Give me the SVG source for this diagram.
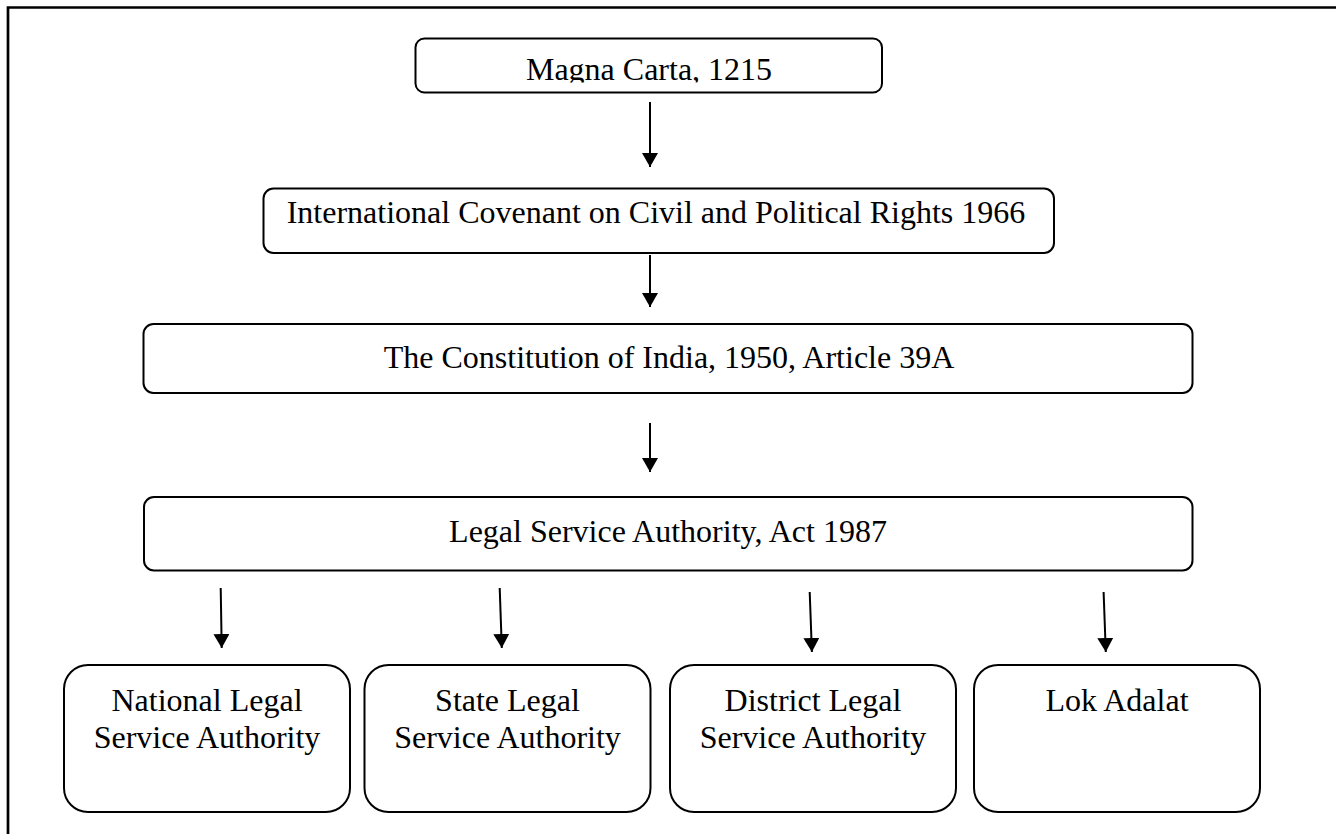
<svg xmlns="http://www.w3.org/2000/svg" width="1336" height="834" viewBox="0 0 1336 834">
<style>
.box{fill:#fff;stroke:#000;stroke-width:2}
.t{font-family:"Liberation Serif","Times New Roman",serif;font-size:32px;fill:#000;text-anchor:middle}
.c{stroke:#000;stroke-width:2;fill:none;marker-end:url(#ah)}
</style>
<defs>
<marker id="ah" markerUnits="userSpaceOnUse" markerWidth="14" markerHeight="16" refX="14" refY="8" orient="auto" viewBox="0 0 14 16">
<path d="M0,0 L14,8 L0,16 z" fill="#000"/>
</marker>
<clipPath id="clipMagna"><rect x="415" y="38" width="468" height="44.5"/></clipPath>
</defs>
<rect width="1336" height="834" fill="#fff"/>
<path d="M8,834 V7.5 H1336" fill="none" stroke="#000" stroke-width="2.7"/>
<g id="n1">
<rect class="box" x="415.5" y="38.5" width="466.5" height="54" rx="9"/>
<text class="t" x="649" y="80" clip-path="url(#clipMagna)">Magna Carta, 1215</text>
</g>
<g id="n2">
<rect class="box" x="263.5" y="188.5" width="790.5" height="64.5" rx="10"/>
<text class="t" x="656" y="222.7">International Covenant on Civil and Political Rights 1966</text>
</g>
<g id="n3">
<rect class="box" x="143.5" y="324" width="1049" height="69" rx="10"/>
<text class="t" x="669" y="368">The Constitution of India, 1950, Article 39A</text>
</g>
<g id="n4">
<rect class="box" x="144" y="497" width="1048.5" height="73.5" rx="10"/>
<text class="t" x="668" y="542">Legal Service Authority, Act 1987</text>
</g>
<g id="n5">
<rect class="box" x="64" y="665" width="286" height="147" rx="24"/>
<text class="t" x="207" y="710.7">National Legal</text>
<text class="t" x="207" y="748.3">Service Authority</text>
</g>
<g id="n6">
<rect class="box" x="364.5" y="665" width="286" height="147" rx="24"/>
<text class="t" x="507.5" y="710.7">State Legal</text>
<text class="t" x="507.5" y="748.3">Service Authority</text>
</g>
<g id="n7">
<rect class="box" x="670" y="665" width="286" height="147" rx="24"/>
<text class="t" x="813" y="710.7">District Legal</text>
<text class="t" x="813" y="748.3">Service Authority</text>
</g>
<g id="n8">
<rect class="box" x="974" y="665" width="286" height="147" rx="24"/>
<text class="t" x="1117" y="710.7">Lok Adalat</text>
</g>
<g id="connectors">
<line class="c" x1="650" y1="102" x2="650" y2="167"/>
<line class="c" x1="650" y1="255" x2="650" y2="307"/>
<line class="c" x1="650" y1="423" x2="650" y2="472"/>
<line class="c" x1="220.7" y1="588" x2="221.7" y2="648"/>
<line class="c" x1="499.7" y1="588" x2="501.8" y2="648"/>
<line class="c" x1="809.7" y1="592" x2="811.9" y2="652"/>
<line class="c" x1="1103.6" y1="592" x2="1105.8" y2="652"/>
</g>
</svg>
